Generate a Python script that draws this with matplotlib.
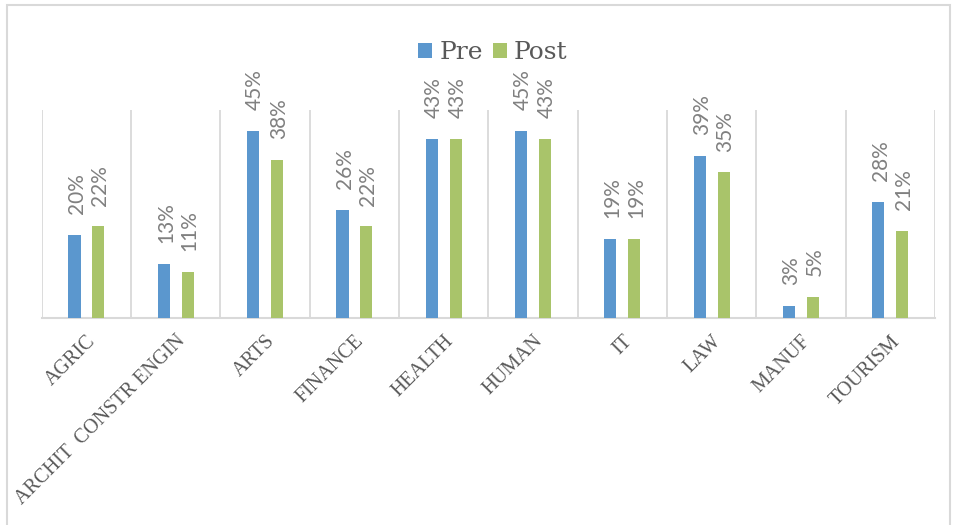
import matplotlib.pyplot as plt
import numpy as np
from matplotlib.patches import Rectangle

# data
categories = ['AGRIC', 'ARCHIT  CONSTR ENGIN', 'ARTS', 'FINANCE', 'HEALTH',
              'HUMAN', 'IT', 'LAW', 'MANUF', 'TOURISM']
pre = [20, 13, 45, 26, 43, 45, 19, 39, 3, 28]
post = [22, 11, 38, 22, 43, 43, 19, 35, 5, 21]

blue = '#5B97CE'
green = '#A9C46A'
grid_col = '#D9D9D9'

fig = plt.figure(figsize=(9.57, 5.25), dpi=100)
ax = fig.add_axes([0.0436, 0.3943, 0.9334, 0.3962])

x = np.arange(len(categories))
w = 0.135
b1 = ax.bar(x - 0.133, np.array(pre) / 100, w, color=blue, label='Pre', zorder=3)
b2 = ax.bar(x + 0.133, np.array(post) / 100, w, color=green, label='Post', zorder=3)

for bars, vals in [(b1, pre), (b2, post)]:
    for r, v in zip(bars, vals):
        ax.annotate('%d%%' % v, (r.get_x() + r.get_width() / 2, r.get_height()),
                    xytext=(1.5, 15), textcoords='offset points',
                    ha='center', va='bottom', rotation=90,
                    fontsize=15, color='#808080', family='Lato')

ax.set_xlim(-0.5, len(categories) - 0.5)
ax.set_ylim(0, 0.5)

ax.set_xticks(x)
ax.set_xticklabels(categories, rotation=45, ha='right', va='top',
                   rotation_mode='anchor', family='Liberation Serif',
                   fontsize=14.5, color='#595959')
ax.set_xticks(np.arange(len(categories) + 1) - 0.5, minor=True)
ax.tick_params(axis='x', which='both', length=0, pad=10)
ax.set_yticks([])
ax.grid(True, axis='x', which='minor', color=grid_col, linewidth=1.3, zorder=0)

for s in ['top', 'left', 'right']:
    ax.spines[s].set_visible(False)
ax.spines['bottom'].set_color(grid_col)
ax.spines['bottom'].set_linewidth(1.5)

leg = fig.legend(loc='center', bbox_to_anchor=(0.515, 0.9), ncol=2, frameon=False,
                 prop={'family': 'DejaVu Serif', 'size': 18},
                 handlelength=0.55, handleheight=0.55, handletextpad=0.3,
                 columnspacing=0.4)
for t in leg.get_texts():
    t.set_color('#595959')

# outer frame of the chart
fig.patches.append(Rectangle((7 / 957, -0.02), 943 / 957, 1 - 5 / 525 + 0.02,
                             transform=fig.transFigure, fill=False,
                             edgecolor=grid_col, linewidth=1.5))

fig.savefig('out.png', dpi=100)
